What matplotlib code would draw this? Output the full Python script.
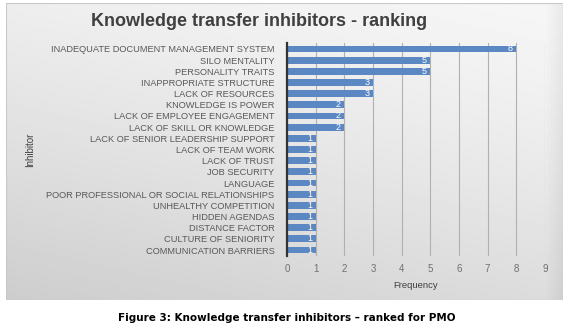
import matplotlib
matplotlib.use("Agg")
import matplotlib.pyplot as plt
from matplotlib.patches import Rectangle
import numpy as np

# Inhibitors, listed top to bottom as in the chart
inhibitors = [
    "INADEQUATE DOCUMENT MANAGEMENT SYSTEM",
    "SILO MENTALITY",
    "PERSONALITY TRAITS",
    "INAPPROPRIATE STRUCTURE",
    "LACK OF RESOURCES",
    "KNOWLEDGE IS POWER",
    "LACK OF EMPLOYEE ENGAGEMENT",
    "LACK OF SKILL OR KNOWLEDGE",
    "LACK OF SENIOR LEADERSHIP SUPPORT",
    "LACK OF TEAM WORK",
    "LACK OF TRUST",
    "JOB SECURITY",
    "LANGUAGE",
    "POOR PROFESSIONAL OR SOCIAL RELATIONSHIPS",
    "UNHEALTHY COMPETITION",
    "HIDDEN AGENDAS",
    "DISTANCE FACTOR",
    "CULTURE OF SENIORITY",
    "COMMUNICATION BARRIERS",
]
frequency = [8, 5, 5, 3, 3, 2, 2, 2, 1, 1, 1, 1, 1, 1, 1, 1, 1, 1, 1]
x_ticks = list(range(0, 10))

W, H = 574, 325
fig = plt.figure(figsize=(W / 100, H / 100), dpi=100)
fig.patch.set_facecolor("white")

# chart area with a soft gray gradient (Excel style background)
bx0, by0, bx1, by1 = 6, 3, 563, 300
bg = fig.add_axes([bx0 / W, 1 - by1 / H, (bx1 - bx0) / W, (by1 - by0) / H])
yy, xx = np.mgrid[0:1:200j, 0:1:400j]   # yy: 0 at top, 1 at bottom
v = 0.7 * yy + 0.3 * (1 - xx)
edge = np.clip((xx - 0.97) / 0.03, 0, 1)
shade = 0.965 - 0.16 * v ** 1.3 - 0.05 * edge
bg.imshow(shade, cmap="gray", vmin=0, vmax=1, aspect="auto",
          extent=(0, 1, 0, 1), interpolation="bilinear")
bg.add_patch(Rectangle((0, 0), 1, 1, transform=bg.transAxes, fill=False,
                       edgecolor="#c8c8c8", linewidth=0.8))
bg.set_axis_off()

# bar plot area
ax_l, ax_r, ax_t, ax_b = 287, 545, 43.4, 255.6
ax = fig.add_axes([ax_l / W, 1 - ax_b / H, (ax_r - ax_l) / W, (ax_b - ax_t) / H])
ax.patch.set_alpha(0)

ypos = np.arange(len(inhibitors))
bars = ax.barh(ypos, frequency, height=0.62, color="#5b87c2", zorder=3)
ax.set_ylim(len(inhibitors) - 0.5, -0.5)
ax.set_xlim(0, 9)
ax.set_xticks(x_ticks)
ax.set_yticks(ypos)
ax.set_yticklabels(inhibitors, fontsize=6.7, color="#595959",
                   family="Liberation Sans")
ax.tick_params(axis="y", length=0, pad=9)
ax.tick_params(axis="x", length=0, pad=6, labelsize=7, labelcolor="#707070")
for lbl in ax.get_xticklabels():
    lbl.set_family("Liberation Sans")
ax.grid(axis="x", color="#b0b0b0", linewidth=0.8, zorder=0)
for s in ["top", "right", "bottom"]:
    ax.spines[s].set_visible(False)
ax.spines["left"].set_color("#333333")
ax.spines["left"].set_linewidth(1.6)
ax.spines["left"].set_zorder(4)

for b, val in zip(bars, frequency):
    ax.text(val - 0.12, b.get_y() + b.get_height() / 2, str(val), ha="right",
            va="center", fontsize=6.5, color="white", zorder=5,
            family="Liberation Sans")

ax.set_xlabel("Frequency", fontsize=6.8, color="#404040", labelpad=5,
              family="Liberation Sans")

fig.text(30 / W, 1 - 150 / H, "Inhibitor", rotation=90, ha="center",
         va="center", fontsize=7, color="#404040", family="Liberation Sans")

fig.text(259 / W, 1 - 22 / H, "Knowledge transfer inhibitors - ranking",
         ha="center", va="center", fontsize=13, fontweight="bold",
         color="#404040", family="Liberation Sans")

fig.text(287 / W, 1 - 318 / H,
         "Figure 3: Knowledge transfer inhibitors \u2013 ranked for PMO",
         ha="center", va="center", fontsize=7.5, fontweight="bold",
         color="black", family="DejaVu Sans")

fig.savefig("out.png", dpi=100)
